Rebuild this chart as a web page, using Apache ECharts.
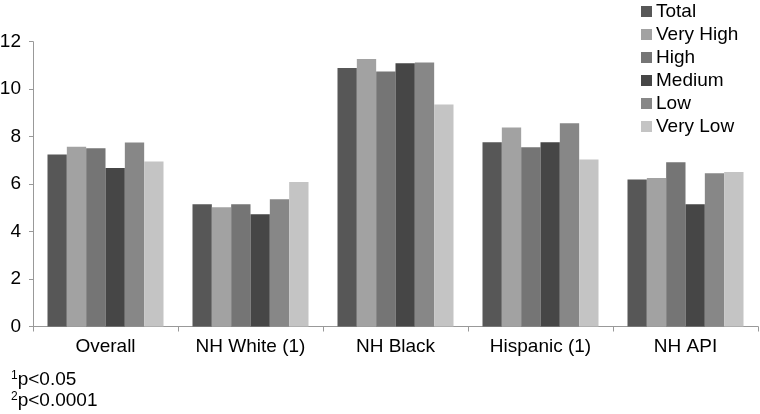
<!DOCTYPE html>
<html>
<head>
<meta charset="utf-8">
<script src="https://cdn.jsdelivr.net/npm/echarts@6/dist/echarts.min.js"></script>
<style>
html,body{margin:0;padding:0;background:#fff;}
#chart{width:760px;height:414px;}
</style>
</head>
<body>
<div id="chart"></div>
<script>
var categories = ['Overall', 'NH White (1)', 'NH Black', 'Hispanic (1)', 'NH API'];
var seriesNames = ['Total', 'Very High', 'High', 'Medium', 'Low', 'Very Low'];
var total    = [7.25, 5.15, 10.89, 7.76, 6.19];
var veryHigh = [7.57, 5.02, 11.27, 8.39, 6.26];
var high     = [7.51, 5.15, 10.74, 7.55, 6.92];
var medium   = [6.68, 4.73, 11.09, 7.76, 5.15];
var low      = [7.75, 5.36, 11.12, 8.56, 6.46];
var veryLow  = [6.95, 6.09, 9.35, 7.04, 6.51];
var yTicks = [0, 2, 4, 6, 8, 10, 12];
var footnotes = [['1', 'p<0.05'], ['2', 'p<0.0001']];

var values = [total, veryHigh, high, medium, low, veryLow];
var colors = ['#575757', '#a2a2a2', '#757575', '#464646', '#878787', '#c4c4c4'];
var font = 'Liberation Sans, Arial, Helvetica, sans-serif';

var chart = echarts.init(document.getElementById('chart'), null, {renderer: 'canvas'});
var series = seriesNames.map(function (n, i) {
  return {
    name: n,
    type: 'bar',
    data: values[i],
    barGap: '0%',
    barCategoryGap: '20%',
    itemStyle: {color: colors[i]},
    emphasis: {disabled: true}
  };
});

chart.setOption({
  animation: false,
  backgroundColor: '#fff',
  textStyle: {fontFamily: font},
  grid: {left: 33, right: 2, top: 41.7, bottom: 87.5, containLabel: false, outerBoundsMode: 'none'},
  legend: {
    orient: 'vertical',
    left: 641,
    top: 2,
    padding: 0,
    itemWidth: 11,
    itemHeight: 11,
    itemGap: 4,
    icon: 'rect',
    data: seriesNames,
    textStyle: {fontSize: 19, color: '#000', fontFamily: font, padding: [0, 0, 0, -1], lineHeight: 19},
    selectedMode: false
  },
  xAxis: {
    type: 'category',
    data: categories,
    axisLine: {lineStyle: {color: '#999', width: 1}},
    axisTick: {show: true, length: 5, lineStyle: {color: '#999'}},
    axisLabel: {fontSize: 19, color: '#000', margin: 11, fontFamily: font, interval: 0}
  },
  yAxis: {
    type: 'value',
    min: yTicks[0],
    max: yTicks[yTicks.length - 1],
    interval: 2,
    splitLine: {show: false},
    axisLine: {show: true, lineStyle: {color: '#999', width: 1}},
    axisTick: {show: true, length: 4, lineStyle: {color: '#999'}},
    axisLabel: {fontSize: 19, color: '#000', margin: 12, fontFamily: font}
  },
  graphic: footnotes.map(function (f, i) {
    return {
      type: 'text',
      left: 11,
      top: 370 + i * 21,
      style: {
        text: '{s|' + f[0] + '}{n|' + f[1] + '}',
        rich: {
          s: {fontSize: 12, fontFamily: font, fill: '#000', verticalAlign: 'top', padding: [0, 0, 7, 0]},
          n: {fontSize: 19, fontFamily: font, fill: '#000'}
        }
      }
    };
  }),
  series: series
});
</script>
</body>
</html>
